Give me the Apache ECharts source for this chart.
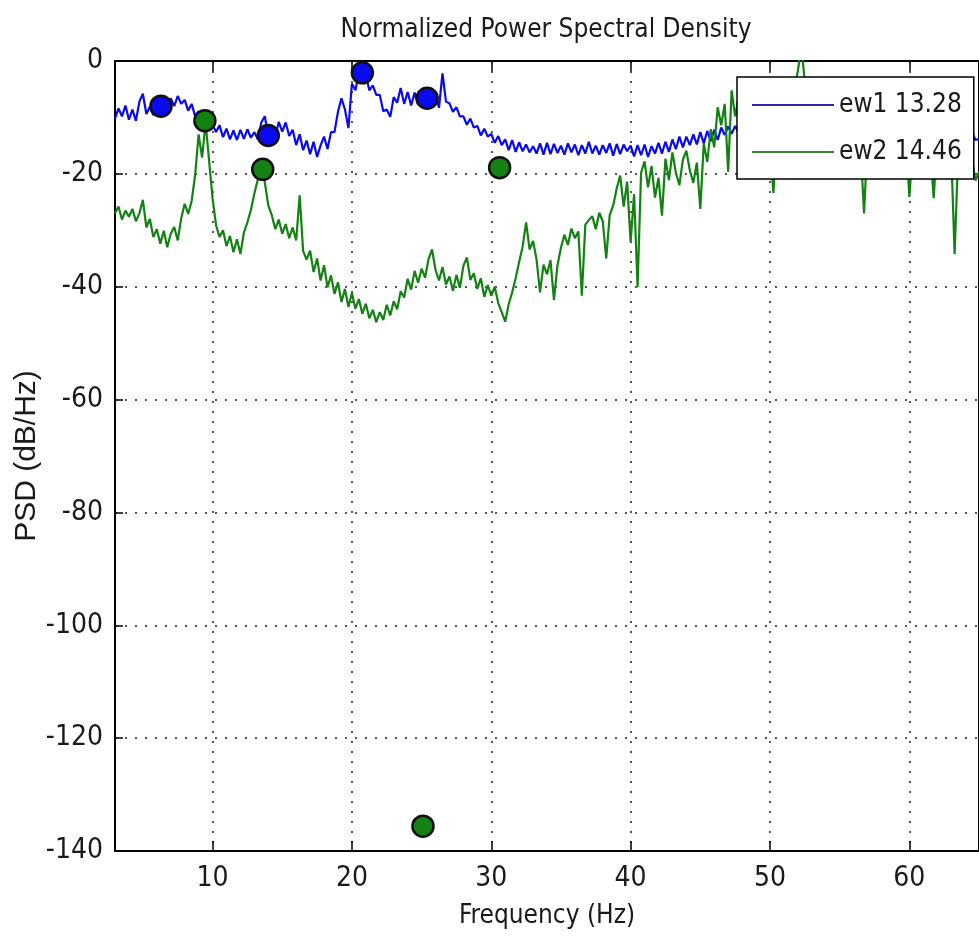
<!DOCTYPE html>
<html>
<head>
<meta charset="utf-8">
<title>Normalized Power Spectral Density</title>
<script src="https://cdn.jsdelivr.net/npm/echarts@6/dist/echarts.min.js"></script>
<style>
  html, body { margin: 0; padding: 0; background: #fff; }
  #psd { width: 979px; height: 937px; }
</style>
</head>
<body>
<div id="psd"></div>
<script>
// frequency grid (Hz), one sample every 0.25 Hz
var freq = [
  3,3.25,3.5,3.75, 4,4.25,4.5,4.75, 5,5.25,5.5,5.75, 6,6.25,6.5,6.75, 7,7.25,7.5,7.75,
  8,8.25,8.5,8.75, 9,9.25,9.5,9.75, 10,10.25,10.5,10.75, 11,11.25,11.5,11.75, 12,12.25,12.5,12.75,
  13,13.25,13.5,13.75, 14,14.25,14.5,14.75, 15,15.25,15.5,15.75, 16,16.25,16.5,16.75, 17,17.25,17.5,17.75,
  18,18.25,18.5,18.75, 19,19.25,19.5,19.75, 20,20.25,20.5,20.75, 21,21.25,21.5,21.75, 22,22.25,22.5,22.75,
  23,23.25,23.5,23.75, 24,24.25,24.5,24.75, 25,25.25,25.5,25.75, 26,26.25,26.5,26.75, 27,27.25,27.5,27.75,
  28,28.25,28.5,28.75, 29,29.25,29.5,29.75, 30,30.25,30.5,30.75, 31,31.25,31.5,31.75, 32,32.25,32.5,32.75,
  33,33.25,33.5,33.75, 34,34.25,34.5,34.75, 35,35.25,35.5,35.75, 36,36.25,36.5,36.75, 37,37.25,37.5,37.75,
  38,38.25,38.5,38.75, 39,39.25,39.5,39.75, 40,40.25,40.5,40.75, 41,41.25,41.5,41.75, 42,42.25,42.5,42.75,
  43,43.25,43.5,43.75, 44,44.25,44.5,44.75, 45,45.25,45.5,45.75, 46,46.25,46.5,46.75, 47,47.25,47.5,47.75,
  48,48.25,48.5,48.75, 49,49.25,49.5,49.75, 50,50.25,50.5,50.75, 51,51.25,51.5,51.75, 52,52.25,52.5,52.75,
  53,53.25,53.5,53.75, 54,54.25,54.5,54.75, 55,55.25,55.5,55.75, 56,56.25,56.5,56.75, 57,57.25,57.5,57.75,
  58,58.25,58.5,58.75, 59,59.25,59.5,59.75, 60,60.25,60.5,60.75, 61,61.25,61.5,61.75, 62,62.25,62.5,62.75,
  63,63.25,63.5,63.75, 64,64.25,64.5,64.75, 65
];

// ew1 PSD (dB/Hz)
var ew1 = [
  -10.2,-8.4,-9.8,-7.9, -10.4,-8.6,-10.6,-7.2, -5.8,-9.4,-8.1,-9.6, -8.2,-9.1,-7.0,-8.6, -6.6,-8.0,-6.2,-7.6,
  -6.9,-8.8,-7.6,-9.8, -8.9,-10.9,-10.1,-12.2, -11.2,-12.6,-11.4,-13.5, -12.0,-13.9,-12.3,-14.0, -12.2,-13.8,-12.1,-13.6,
  -12.6,-13.9,-10.9,-9.8, -13.3,-11.9,-13.4,-10.8, -12.5,-10.9,-13.3,-12.2, -14.9,-13.0,-15.8,-14.1, -16.5,-14.3,-17.0,-15.0,
  -13.4,-15.6,-12.6,-12.6, -9.0,-6.6,-8.6,-11.9, -4.0,-5.2,-2.0,-3.6, -2.5,-5.2,-4.3,-6.0, -6.0,-8.9,-8.6,-9.9,
  -6.4,-7.4,-4.8,-7.6, -5.5,-7.9,-5.6,-7.8, -5.1,-7.6,-5.8,-8.0, -6.0,-8.3,-2.2,-7.2, -7.5,-9.0,-8.2,-9.8,
  -9.8,-11.3,-10.2,-11.8, -11.5,-13.2,-12.0,-13.4, -12.9,-14.5,-13.3,-14.9, -13.9,-15.8,-14.0,-16.1, -14.4,-16.0,-14.8,-16.2,
  -15.1,-16.4,-14.6,-16.6, -14.5,-16.5,-14.7,-16.3, -15.0,-16.6,-14.6,-16.2, -14.8,-16.7,-14.9,-16.4, -14.3,-16.4,-15.0,-16.6,
  -14.9,-16.3,-14.6,-16.8, -14.7,-16.5,-14.8,-16.0, -15.0,-16.9,-14.9,-16.7, -14.8,-17.0,-15.1,-16.4, -14.5,-16.4,-14.3,-16.1,
  -13.9,-15.6,-13.4,-15.3, -13.4,-14.9,-13.0,-14.8, -12.6,-14.6,-12.4,-14.2, -12.2,-14.0,-11.8,-13.1, -11.6,-12.9,-11.5,-12.8,
  -11.6,-12.3,-11.9,-12.5, -12.1,-11.5,-12.4,-11.8, -12.2,-11.7,-12.6,-12.0, -11.4,-12.1,-11.8,-12.4, -11.9,-11.3,-12.2,-11.7,
  -12.3,-11.6,-12.0,-12.5, -11.8,-12.4,-11.5,-12.1, -12.0,-11.6,-12.3,-11.9, -12.4,-11.8,-12.1,-11.5, -12.2,-11.7,-12.5,-11.9,
  -11.6,-12.3,-11.8,-12.2, -12.0,-11.5,-12.4,-11.8, -11.7,-12.2,-11.6,-12.1, -12.3,-11.8,-12.0,-11.6, -12.1,-11.7,-12.4,-12.0,
  -11.8,-12.2,-11.9,-12.3, -11.6,-13.0,-12.6,-14.0, -13.8
];

// ew2 PSD (dB/Hz)
var ew2 = [
  -27.0,-25.8,-28.1,-26.5, -27.6,-26.2,-28.4,-27.0, -24.6,-29.5,-28.0,-31.2, -29.8,-32.4,-30.1,-33.0, -30.6,-29.4,-31.8,-27.9,
  -25.3,-27.1,-24.8,-20.2, -13.0,-17.1,-10.9,-17.6, -24.3,-29.1,-31.2,-30.0, -32.8,-31.0,-33.9,-31.6, -34.2,-30.4,-28.6,-26.4,
  -23.5,-21.0,-19.2,-21.5, -25.6,-27.3,-29.8,-28.1, -30.6,-28.9,-31.4,-29.5, -31.8,-23.8,-33.7,-35.2, -33.6,-37.4,-35.0,-38.9,
  -36.2,-40.1,-38.0,-41.3, -39.2,-42.7,-40.4,-43.6, -41.1,-43.9,-42.2,-44.8, -43.0,-45.6,-44.1,-46.3, -44.5,-45.9,-43.2,-45.1,
  -42.6,-44.0,-40.8,-41.9, -38.6,-40.5,-37.2,-39.3, -36.8,-38.4,-35.1,-33.4, -37.0,-38.9,-36.5,-39.6, -38.2,-40.7,-37.9,-40.2,
  -36.3,-34.8,-38.8,-37.6, -40.4,-38.5,-41.8,-39.7, -41.6,-40.0,-42.9,-44.5, -46.2,-43.1,-41.0,-38.5, -35.6,-32.9,-28.6,-33.4,
  -31.9,-35.2,-41.0,-36.1, -37.8,-35.3,-42.4,-36.2, -33.1,-30.8,-32.6,-29.7, -31.4,-30.2,-41.6,-29.0, -28.2,-27.5,-29.8,-26.9,
  -28.4,-35.0,-27.3,-25.6, -22.6,-20.3,-25.8,-21.4, -32.1,-23.6,-40.1,-19.8, -17.8,-22.4,-18.6,-24.2, -20.7,-27.4,-17.3,-21.1,
  -16.2,-19.8,-22.0,-17.5, -15.9,-19.4,-21.6,-18.0, -26.2,-14.6,-17.9,-12.1, -15.3,-8.2,-11.4,-7.6, -19.6,-5.2,-9.8,-6.4,
  -12.5,-9.6,-14.1,-10.8, -11.6,-13.9,-9.7,-12.8, -15.2,-23.4,-11.3,-9.5, -7.8,-10.6,-6.2,-4.9, -1.8,2.5,-3.6,-8.4,
  -10.2,-12.6,-9.1,-13.4, -11.8,-14.2,-10.5,-12.9, -13.6,-11.2,-14.8,-12.4, -10.9,-13.7,-15.1,-27.0, -14.2,-12.6,-15.8,-13.1,
  -11.4,-14.6,-12.2,-15.3, -13.5,-11.8,-14.9,-12.7, -24.1,-15.4,-13.2,-16.0, -14.3,-12.8,-15.6,-24.3, -13.9,-16.2,-14.5,-12.9,
  -15.8,-34.2,-16.7,-14.4, -16.3,-18.8,-17.5,-21.2, -19.6
];

// picked peaks (circles)
var ew1PeakFreq = [6.3, 14.0, 20.75, 25.4];
var ew1PeakVal = [-8.0, -13.2, -2.1, -6.6];
var ew2PeakFreq = [9.45, 13.6, 25.1, 30.6];
var ew2PeakVal = [-10.6, -19.2, -135.6, -18.9];

var xTicks = [10, 20, 30, 40, 50, 60];
var legendNames = ['ew1 13.28', 'ew2 14.46'];

var FONT = "'Liberation Sans Narrow', 'DejaVu Sans Condensed', 'Liberation Sans', sans-serif";
var BLUE = '#0a0af0';
var GREEN = '#138213';

function pairs(xs, ys) {
  var out = [];
  for (var i = 0; i < xs.length; i++) out.push([xs[i], ys[i]]);
  return out;
}

function drawPsd() {
  var chart = echarts.init(document.getElementById('psd'), null, { renderer: 'canvas' });
  var dotted = { type: [2, 8], color: '#222', width: 1.5 };
  var option = {
    animation: false,
    backgroundColor: '#fff',
    title: {
      text: 'Normalized Power Spectral Density',
      left: 541, top: 12, textAlign: 'center',
      textStyle: { fontFamily: FONT, fontSize: 26, fontWeight: 'normal', color: '#1a1a1a' }
    },
    grid: {
      left: 115, top: 61, bottom: 86, right: -4,
      show: true, borderColor: '#000', borderWidth: 2, backgroundColor: 'transparent'
    },
    legend: {
      data: legendNames,
      orient: 'vertical', left: 737, top: 77,
      padding: [15, 12, 14, 15],
      icon: 'rect',
      itemWidth: 82, itemHeight: 2, itemGap: 21,
      backgroundColor: '#fff', borderColor: '#000', borderWidth: 1.5,
      textStyle: { fontFamily: FONT, fontSize: 26, color: '#1a1a1a' }
    },
    xAxis: [{
      type: 'value', min: 3, max: 65, position: 'bottom',
      name: 'Frequency (Hz)', nameLocation: 'middle', nameGap: 52,
      nameTextStyle: { fontFamily: FONT, fontSize: 26, color: '#1a1a1a' },
      axisLine: { onZero: false, lineStyle: { color: '#000', width: 2 } },
      axisTick: { inside: true, length: 10, customValues: xTicks, lineStyle: { color: '#000', width: 1.5 } },
      axisLabel: { customValues: xTicks, fontFamily: FONT, fontSize: 28, color: '#1a1a1a', margin: 14 },
      splitLine: { show: true, lineStyle: dotted }
    }, {
      type: 'value', min: 3, max: 65, position: 'top',
      axisLine: { onZero: false, lineStyle: { color: '#000', width: 2 } },
      axisTick: { inside: true, length: 10, customValues: xTicks, lineStyle: { color: '#000', width: 1.5 } },
      axisLabel: { show: false },
      splitLine: { show: false }
    }],
    yAxis: {
      type: 'value', min: -140, max: 0, interval: 20,
      name: 'PSD (dB/Hz)', nameLocation: 'middle', nameGap: 73, nameMoveOverlap: false,
      nameTextStyle: { fontFamily: "'Liberation Sans', sans-serif", fontSize: 30, color: '#1a1a1a' },
      axisLine: { show: true, onZero: false, lineStyle: { color: '#000', width: 2 } },
      axisTick: { show: true, inside: true, length: 8, lineStyle: { color: '#000', width: 1.5 } },
      axisLabel: { fontFamily: FONT, fontSize: 28, color: '#1a1a1a', margin: 12 },
      splitLine: { show: true, lineStyle: dotted }
    },
    series: [{
      name: legendNames[0], type: 'line', data: pairs(freq, ew1),
      symbol: 'none', clip: true, z: 2,
      lineStyle: { color: BLUE, width: 2.2 }, itemStyle: { color: '#2a2aa8' }
    }, {
      name: legendNames[1], type: 'line', data: pairs(freq, ew2),
      symbol: 'none', clip: true, z: 2,
      lineStyle: { color: GREEN, width: 2.2 }, itemStyle: { color: '#2f8a2f' }
    }, {
      name: 'ew1 peaks', type: 'scatter', data: pairs(ew1PeakFreq, ew1PeakVal),
      symbol: 'circle', symbolSize: 21, z: 3,
      itemStyle: { color: BLUE, borderColor: '#111', borderWidth: 2.5, opacity: 1 }
    }, {
      name: 'ew2 peaks', type: 'scatter', data: pairs(ew2PeakFreq, ew2PeakVal),
      symbol: 'circle', symbolSize: 21, z: 3,
      itemStyle: { color: GREEN, borderColor: '#111', borderWidth: 2.5, opacity: 1 }
    }]
  };
  chart.setOption(option);
}

drawPsd();
</script>
</body>
</html>
